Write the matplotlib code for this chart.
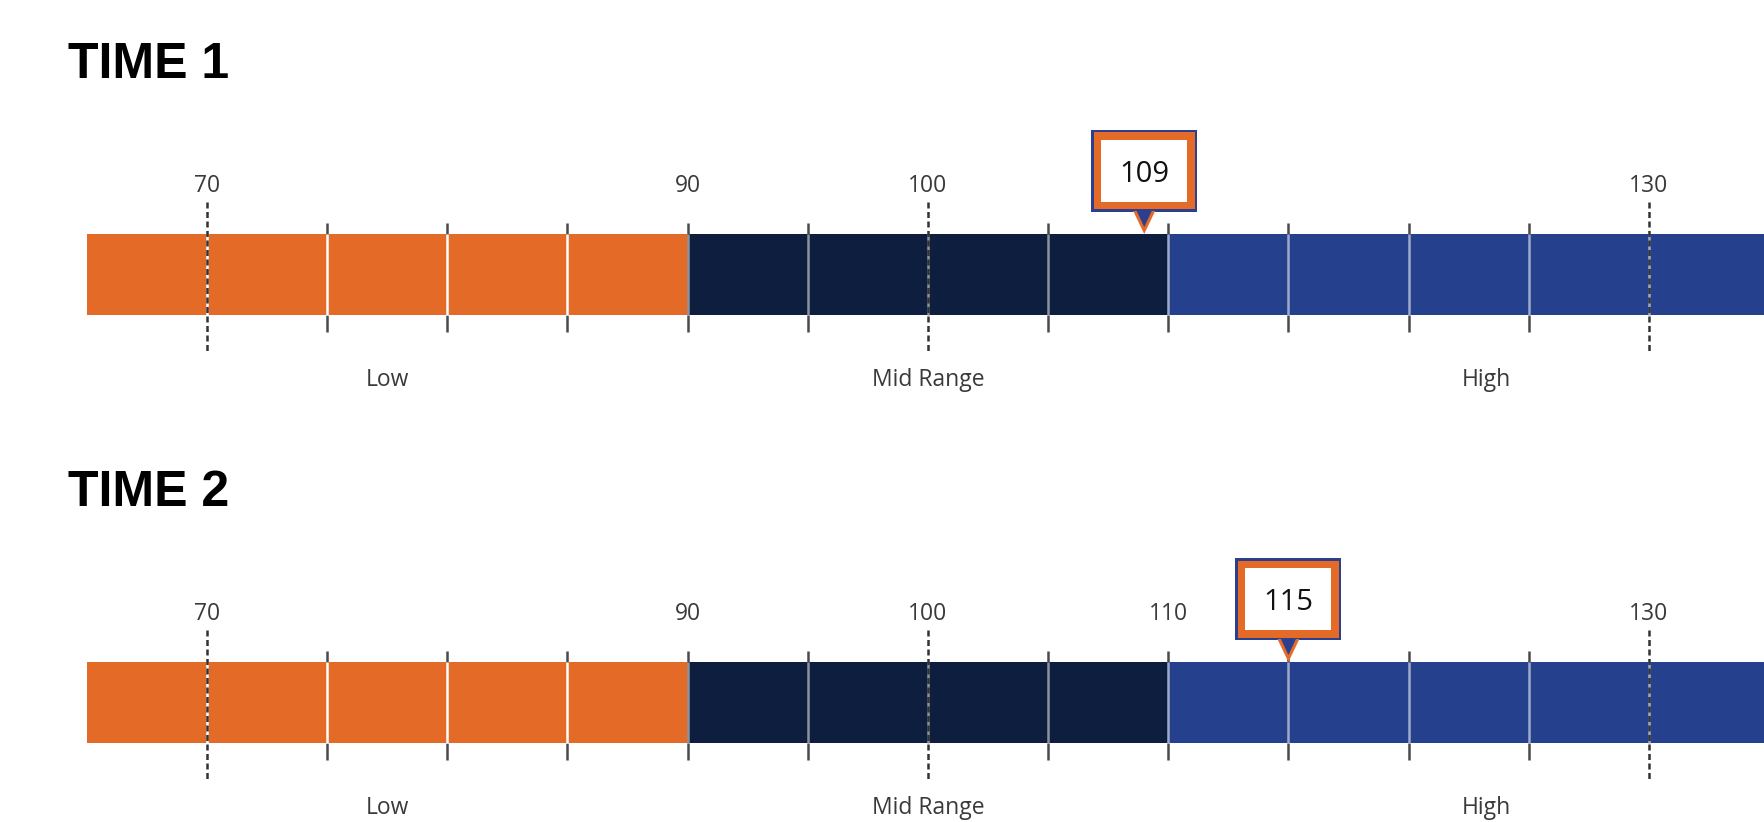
import matplotlib
matplotlib.use("Agg")
import matplotlib.pyplot as plt
from matplotlib.patches import Rectangle, Polygon
from bisect import bisect_right

# ---------------- data ----------------
titles = ["TIME 1", "TIME 2"]
values = [109, 115]
region_names = ["Low", "Mid Range", "High"]
region_bounds = [65, 90, 110, 136.5]
minor_ticks = [75, 80, 85, 90, 95, 105, 110, 115, 120, 125]
major_ticks = [70, 100, 130]
tick_labels = [[70, 90, 100, 130], [70, 90, 100, 110, 130]]

# ---------------- style ----------------
region_colors = ["#E46A27", "#0D1E3E", "#25418E"]
inner_colors = ["#FFFFFF", "#8C939E", "#9FAACB"]
tick_dark = "#4A4A4A"
label_color = "#3A3A3A"
box_blue = "#2B3F8E"
box_orange = "#E46A27"

W, H, DPI = 1765, 822, 100
XMIN, XMAX = 61.39, 134.83
S = W / (XMAX - XMIN)  # pixels per unit
PANEL_DY = 428

fig = plt.figure(figsize=(W / DPI, H / DPI), dpi=DPI)
ax = fig.add_axes([0, 0, 1, 1])
ax.set_xlim(XMIN, XMAX)
ax.set_ylim(H, 0)
ax.axis("off")

LW = 1.8

for i, (title, val, labels) in enumerate(zip(titles, values, tick_labels)):
    oy = i * PANEL_DY
    bar_top, bar_bot = 234 + oy, 315 + oy
    tick_top, tick_bot = 223 + oy, 332 + oy
    dash_top, dash_bot = 202 + oy, 353 + oy

    # title
    fig.text(68 / W, 1 - (78 + oy) / H, title, ha="left", va="baseline",
             fontsize=36, fontweight="bold", family="Liberation Sans", color="black")

    # bar segments
    for k in range(len(region_names)):
        lo, hi = region_bounds[k], region_bounds[k + 1]
        ax.barh((bar_top + bar_bot) / 2, hi - lo, left=lo, height=bar_bot - bar_top,
                color=region_colors[k], edgecolor="none", zorder=1)
        ax.text((lo + hi) / 2, 386 + oy, region_names[k], ha="center", va="baseline",
                fontsize=16.5, family="Open Sans", color=label_color)

    # minor ticks
    for t in minor_ticks:
        k = min(bisect_right(region_bounds, t) - 1, len(region_colors) - 1)
        ax.vlines(t, tick_top, bar_top, color=tick_dark, lw=LW, zorder=2)
        ax.vlines(t, bar_bot, tick_bot, color=tick_dark, lw=LW, zorder=2)
        ax.vlines(t, bar_top, bar_bot, color=inner_colors[k], lw=LW, zorder=2)

    # major dashed lines
    for t in major_ticks:
        k = min(bisect_right(region_bounds, t) - 1, len(region_colors) - 1)
        ax.vlines(t, bar_top, bar_bot, color=inner_colors[k], lw=LW, zorder=2)
        ln = ax.vlines(t, dash_top, dash_bot, color="#333333", lw=LW, zorder=3)
        ln.set_linestyle((0, (2.4, 1.4)))

    # tick labels
    for t in labels:
        ax.text(t, 192 + oy, str(t), ha="center", va="baseline",
                fontsize=16.5, family="Open Sans", color=label_color)

    # callout box
    bw, bh = 106, 82
    box_top = 130 + oy
    box_bot = box_top + bh
    x0 = val - (bw / 2) / S
    ax.add_patch(Rectangle((x0, box_top), bw / S, bh, facecolor=box_blue,
                           edgecolor="none", zorder=5))
    b = 2.5
    ax.add_patch(Rectangle((x0 + b / S, box_top + b), (bw - 2 * b) / S, bh - 2 * b,
                           facecolor=box_orange, edgecolor="none", zorder=6))
    b = 10
    ax.add_patch(Rectangle((x0 + b / S, box_top + b), (bw - 2 * b) / S, bh - 2 * b,
                           facecolor="white", edgecolor="none", zorder=7))
    # pointer
    ax.add_patch(Polygon([(val - 11 / S, box_bot - 1), (val + 11 / S, box_bot - 1),
                          (val, bar_top)], closed=True, facecolor=box_orange,
                         edgecolor="none", zorder=5))
    ax.add_patch(Polygon([(val - 7.5 / S, box_bot - 1), (val + 7.5 / S, box_bot - 1),
                          (val, bar_top - 7)], closed=True, facecolor=box_blue,
                         edgecolor="none", zorder=6))
    ax.text(val, 182 + oy, str(val), ha="center", va="baseline",
            fontsize=21, family="Open Sans", color="#111111", zorder=8)

fig.savefig("out.png", dpi=DPI)
